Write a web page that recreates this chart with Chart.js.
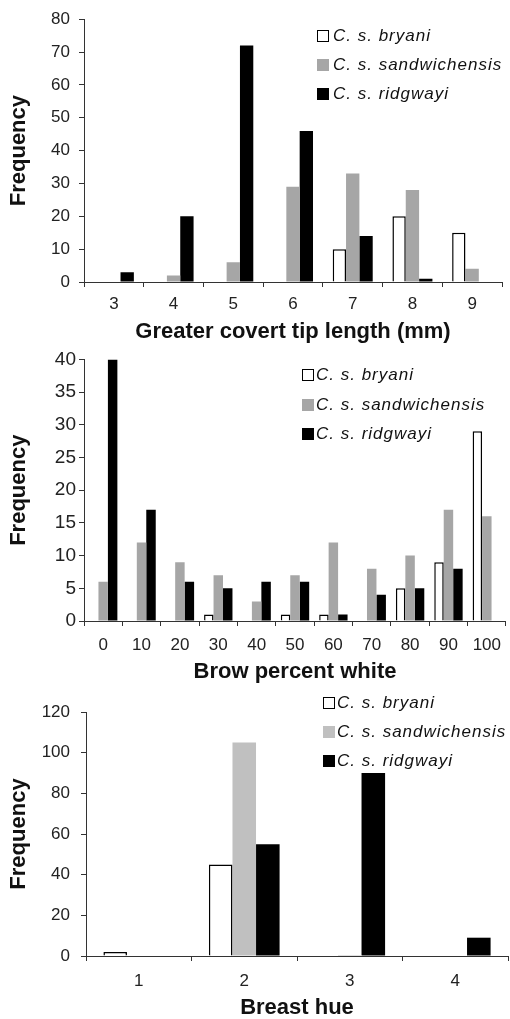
<!DOCTYPE html>
<html>
<head>
<meta charset="utf-8">
<script src="https://cdn.jsdelivr.net/npm/chart.js@4.4.1/dist/chart.umd.min.js"></script>
<style>
  html, body { margin: 0; padding: 0; background: #fff; }
  #wrap { position: relative; width: 510px; height: 1019px; overflow: hidden; }
  canvas { position: absolute; left: 0; }
  .legend { position: absolute; font-family: 'Liberation Sans', Arial, sans-serif; font-style: italic; font-size: 17px; letter-spacing: 1px; color: #111; }
  .row { position: absolute; left: 0; height: 20px; line-height: 20px; white-space: nowrap; }
  .box { position: absolute; top: 4px; width: 12px; height: 12px; box-sizing: border-box; }
  .txt { position: absolute; top: 0; }
</style>
</head>
<body>
<div id="wrap">
  <canvas id="c1" width="510" height="345" style="top:0px"></canvas>
  <canvas id="c2" width="510" height="340" style="top:345px"></canvas>
  <canvas id="c3" width="510" height="334" style="top:685px"></canvas>
</div>
<script>
// ---- Data ----
const seriesNames = ['C. s. bryani', 'C. s. sandwichensis', 'C. s. ridgwayi'];

const tipCategories = ['3', '4', '5', '6', '7', '8', '9'];
const tipBryani = [0, 0, 0, 0, 10, 20, 15];
const tipSandwichensis = [0, 2, 6, 29, 33, 28, 4];
const tipRidgwayi = [3, 20, 72, 46, 14, 1, 0];

const browCategories = ['0', '10', '20', '30', '40', '50', '60', '70', '80', '90', '100'];
const browBryani = [0, 0, 0, 1, 0, 1, 1, 0, 5, 9, 29];
const browSandwichensis = [6, 12, 9, 7, 3, 7, 12, 8, 10, 17, 16];
const browRidgwayi = [40, 17, 6, 5, 6, 6, 1, 4, 5, 8, 0];

const hueCategories = ['1', '2', '3', '4'];
const hueBryani = [2, 45, 0, 0];
const hueSandwichensis = [0, 105, 0.5, 0];
const hueRidgwayi = [0, 55, 90, 9];

// ---- Chart building ----
Chart.defaults.font.family = "'Liberation Sans', Arial, sans-serif";
Chart.defaults.color = '#222';
Chart.defaults.animation = false;

function makeChart(id, cfg) {
  const ax = '#333';
  return new Chart(document.getElementById(id), {
    type: 'bar',
    data: {
      labels: cfg.labels,
      datasets: [
        { label: seriesNames[0], data: cfg.a, backgroundColor: '#ffffff', borderColor: '#000', borderWidth: 1.5 },
        { label: seriesNames[1], data: cfg.b, backgroundColor: cfg.gray, borderWidth: 0 },
        { label: seriesNames[2], data: cfg.c, backgroundColor: '#000000', borderWidth: 0 }
      ]
    },
    options: {
      responsive: false,
      animation: false,
      events: [],
      layout: { padding: { top: cfg.padTop, right: cfg.padRight, left: 0, bottom: 0 } },
      datasets: { bar: { categoryPercentage: cfg.catPct, barPercentage: 1.0 } },
      plugins: { legend: { display: false }, tooltip: { enabled: false } },
      scales: {
        x: {
          grid: { display: true, drawOnChartArea: false, offset: true, tickLength: 5, color: ax, lineWidth: 1 },
          border: { color: ax, width: 1 },
          ticks: { font: { size: cfg.tickSize }, color: '#222', padding: cfg.xTickPad, maxRotation: 0, autoSkip: false },
          title: { display: true, text: cfg.xTitle, font: { size: 22, weight: 'bold' }, color: '#111', padding: { top: 0, bottom: cfg.titlePadBottom } },
          afterFit: s => { s.height = cfg.xHeight; }
        },
        y: {
          min: 0, max: cfg.yMax,
          grid: { display: true, drawOnChartArea: false, tickLength: 5, color: ax, lineWidth: 1 },
          border: { color: ax, width: 1 },
          ticks: { stepSize: cfg.yStep, font: { size: cfg.yTickSize }, color: '#222', padding: cfg.yTickPad },
          title: { display: true, text: 'Frequency', font: { size: 22, weight: 'bold' }, color: '#111', padding: { top: 6, bottom: 0 } },
          afterFit: s => { s.width = cfg.yWidth; }
        }
      }
    }
  });
}

makeChart('c1', {
  labels: tipCategories, a: tipBryani, b: tipSandwichensis, c: tipRidgwayi,
  gray: '#a6a6a6', catPct: 0.67, padTop: 18, padRight: 8, yWidth: 84, xHeight: 63,
  yMax: 80, yStep: 10, tickSize: 17, yTickSize: 17, xTickPad: 7, yTickPad: 9,
  xTitle: 'Greater covert tip length (mm)', titlePadBottom: 0
});
makeChart('c2', {
  labels: browCategories, a: browBryani, b: browSandwichensis, c: browRidgwayi,
  gray: '#a6a6a6', catPct: 0.74, padTop: 14, padRight: 0, yWidth: 84, xHeight: 64,
  yMax: 40, yStep: 5, tickSize: 17, yTickSize: 19, xTickPad: 9, yTickPad: 3,
  xTitle: 'Brow percent white', titlePadBottom: 0
});
makeChart('c3', {
  labels: hueCategories, a: hueBryani, b: hueSandwichensis, c: hueRidgwayi,
  gray: '#c0c0c0', catPct: 0.67, padTop: 27, padRight: 2, yWidth: 86, xHeight: 63,
  yMax: 120, yStep: 20, tickSize: 17, yTickSize: 17, xTickPad: 10, yTickPad: 11,
  xTitle: 'Breast hue', titlePadBottom: -2
});

// ---- HTML legends ----
function makeLegend(boxLeft, textLeft, rowCenters, gray) {
  const wrap = document.getElementById('wrap');
  const styles = [
    'background:#fff;border:1.5px solid #000;',
    'background:' + gray + ';',
    'background:#000;'
  ];
  seriesNames.forEach((name, i) => {
    const row = document.createElement('div');
    row.className = 'legend row';
    row.style.top = (rowCenters[i] - 10) + 'px';
    row.style.left = boxLeft + 'px';
    const box = document.createElement('div');
    box.className = 'box';
    box.style.cssText += styles[i] + 'left:0px;';
    const txt = document.createElement('span');
    txt.className = 'txt';
    txt.style.left = (textLeft - boxLeft) + 'px';
    txt.textContent = name;
    row.appendChild(box);
    row.appendChild(txt);
    wrap.appendChild(row);
  });
}
makeLegend(317, 333, [36, 65, 94], '#a6a6a6');
makeLegend(302, 316, [375, 405, 434], '#a6a6a6');
makeLegend(323, 337, [703, 732, 761], '#c0c0c0');
</script>
</body>
</html>
